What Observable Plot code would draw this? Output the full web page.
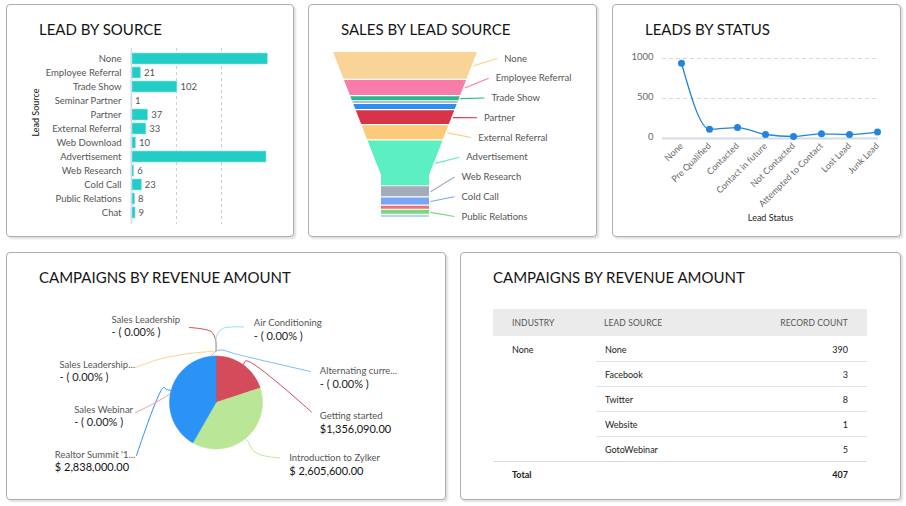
<!DOCTYPE html>
<html>
<head>
<meta charset="utf-8">
<script src="https://cdn.jsdelivr.net/npm/d3@7"></script>
<script src="https://cdn.jsdelivr.net/npm/@observablehq/plot@0.6"></script>
<style>
  body { margin: 0; background: #fff; font-family: Lato, "Open Sans", sans-serif; }
  #dash { position: relative; width: 906px; height: 506px; overflow: hidden; background: #fff; }
  .panel { position: absolute; box-sizing: border-box; border: 1px solid #a8afb9; border-radius: 4px;
           background: #fff; box-shadow: 2px 2px 2px rgba(0,0,0,0.12); }
  .title { position: absolute; font-size: 15px; line-height: 16px; color: #141414; white-space: nowrap; }
  .chart { position: absolute; }
  .cell { position: absolute; white-space: nowrap; font-size: 9px; color: #222; height: 14px; line-height: 14px; }
  .hdr { font-size: 8.5px; color: #555; letter-spacing: 0.1px; }
  .rule { position: absolute; height: 1px; background: #e2e2e2; }
</style>
</head>
<body>
<div id="dash"></div>
<script>
// ---------------- DATA ----------------
// Lead by source (bar)
const leadSources = ["None","Employee Referral","Trade Show","Seminar Partner","Partner","External Referral","Web Download","Advertisement","Web Research","Cold Call","Public Relations","Chat"];
const leadCounts  = [303, 21, 102, 1, 37, 33, 10, 300, 6, 23, 8, 9];

// Sales by lead source (funnel)
const funnelSources = ["None","Employee Referral","Trade Show","Seminar Partner","Web Download","Partner","External Referral","Advertisement","Web Research","Cold Call","Chat","Public Relations","Internal Seminar"];
const funnelSales   = [27, 15, 4, 1.5, 5, 14, 14, 45, 10, 7, 3, 4, 2];
const funnelColors  = ["#f9d497","#f87ca9","#27b98d","#9ea8b4","#2d8ff0","#d9334a","#fdca79","#5cefc2","#a3adba","#77a6f7","#f4706f","#79d982","#b4dbe0"];
const funnelLabelled = ["None","Employee Referral","Trade Show","Partner","External Referral","Advertisement","Web Research","Cold Call","Public Relations"];

// Leads by status (line)
const statuses     = ["None","Pre Qualified","Contacted","Contact in future","Not Contacted","Attempted to Contact","Lost Lead","Junk Lead"];
const statusCounts = [940, 116, 137, 50, 25, 58, 50, 80];
const statusTicks  = [0, 500, 1000];

// Campaigns by revenue amount (pie)
const campaigns      = ["Getting started","Introduction to Zylker","Realtor Summit '1...","Sales Leadership","Air Conditioning","Alternating curre...","Sales Leadership...","Sales Webinar"];
const revenue        = [1356090, 2605600, 2838000, 0, 0, 0, 0, 0];
const revenueLabels  = ["$1,356,090.00","$ 2,605,600.00","$ 2,838,000.00","- ( 0.00% )","- ( 0.00% )","- ( 0.00% )","- ( 0.00% )","- ( 0.00% )"];
const campaignColors = ["#d44b5b","#b9e797","#2c93f6","#d9485a","#8ce3ea","#82bdf5","#fdd28e","#eba0a6"];

// Table
const tableIndustry = "None";
const tableSources  = ["None","Facebook","Twitter","Website","GotoWebinar"];
const tableCounts   = [390, 3, 8, 1, 5];
const tableHeaders  = ["INDUSTRY","LEAD SOURCE","RECORD COUNT"];

// ---------------- LAYOUT ----------------
const FONT = "Lato, 'Open Sans', sans-serif";
const dash = document.getElementById("dash");
const panels = [
  {l:6,   t:4,   w:288, h:233, title:"LEAD BY SOURCE"},
  {l:308, t:4,   w:289, h:233, title:"SALES BY LEAD SOURCE"},
  {l:612, t:4,   w:289, h:233, title:"LEADS BY STATUS"},
  {l:6,   t:252, w:440, h:248, title:"CAMPAIGNS BY REVENUE AMOUNT"},
  {l:460, t:252, w:441, h:248, title:"CAMPAIGNS BY REVENUE AMOUNT"}
];
panels.forEach(p => {
  const d = document.createElement("div");
  d.className = "panel";
  Object.assign(d.style, {left:p.l+"px", top:p.t+"px", width:p.w+"px", height:p.h+"px"});
  dash.appendChild(d);
  const t = document.createElement("div");
  t.className = "title";
  t.textContent = p.title;
  Object.assign(t.style, {left:(p.l+33)+"px", top:(p.t+17)+"px"});
  dash.appendChild(t);
});
function place(svg, p) {
  svg.classList.add("chart");
  svg.style.left = p.l + "px";
  svg.style.top = p.t + "px";
  dash.appendChild(svg);
}
const baseStyle = {fontFamily: FONT, background: "transparent", overflow: "visible", fontSize: "9.5px"};

// ---------- 1. Lead by source ----------
{
  const data = leadSources.map((s, i) => ({source: s, value: leadCounts[i]}));
  const svg = Plot.plot({
    width: 288, height: 233,
    marginLeft: 125, marginRight: 28, marginTop: 44, marginBottom: 13,
    style: baseStyle,
    x: {domain: [0, 300], axis: null},
    y: {domain: leadSources, padding: 0.2},
    marks: [
      Plot.gridX([100, 200], {stroke: "#cfcfcf", strokeOpacity: 1, strokeDasharray: "3,3"}),
      Plot.barX(data, {x: "value", y: "source", fill: "#22cdc6", stroke: "#8fe6e2", strokeWidth: 0.6}),
      Plot.ruleX([0], {stroke: "#d5dbe6", strokeWidth: 1.5}),
      Plot.axisY({tickSize: 0, tickPadding: 10, fontSize: 9.5, color: "#555", label: null}),
      Plot.text(data.filter(d => d.value < 250), {x: "value", y: "source", text: d => String(d.value), dx: 3, textAnchor: "start", fill: "#555", fontSize: 9.5}),
      Plot.text(["Lead Source"], {frameAnchor: "left", dx: -95, rotate: -90, fontSize: 9, fill: "#111"})
    ]
  });
  place(svg, panels[0]);
}

// ---------- 2. Sales by lead source (funnel) ----------
{
  const L = {width: 289, height: 233, left: 25, right: 120, top: 48, bottom: 20, gap: 1.2, neckWidth: 1/3, neckHeight: 0.255};
  let acc = 0;
  const segs = funnelSources.map((s, i) => {
    const y1 = acc, y2 = acc + funnelSales[i];
    acc = y2 + L.gap;
    return {s, y1, y2, color: funnelColors[i]};
  });
  const T = acc - L.gap;
  const neckY = T * (1 - L.neckHeight);
  const hw = y => y < neckY ? 1 - (1 - L.neckWidth) * y / neckY : L.neckWidth;
  const pts = segs.flatMap(g => {
    const ys = [g.y1];
    if (neckY > g.y1 && neckY < g.y2) ys.push(neckY);
    ys.push(g.y2);
    return ys.map(y => ({s: g.s, y, x1: -hw(y), x2: hw(y), color: g.color}));
  });
  const pxX = (L.width - L.left - L.right) / 2;
  const pxY = (L.height - L.top - L.bottom) / T;
  const shown = segs.filter(g => funnelLabelled.includes(g.s));
  const a = 6 / pxY, b = T - 1 / pxY;
  shown.forEach((g, j) => {
    g.mid = (g.y1 + g.y2) / 2;
    g.ex = hw(g.mid) + 1 / pxX;
    g.ly = a + j * (b - a) / (shown.length - 1);
    g.lx = g.ex + 24 / pxX;
    g.tx = g.ex + 31 / pxX;
  });
  const svg = Plot.plot({
    width: L.width, height: L.height,
    marginLeft: L.left, marginRight: L.right, marginTop: L.top, marginBottom: L.bottom,
    style: baseStyle,
    x: {domain: [-1, 1], axis: null},
    y: {domain: [0, T], reverse: true, axis: null},
    color: {type: "identity"},
    marks: [
      Plot.areaX(pts, {y: "y", x1: "x1", x2: "x2", z: "s", fill: "color", curve: "linear"}),
      Plot.link(shown, {x1: "ex", y1: "mid", x2: "lx", y2: "ly", stroke: "color", strokeWidth: 1.2}),
      Plot.text(shown, {x: "tx", y: "ly", text: "s", textAnchor: "start", fill: "#555", fontSize: 9.5})
    ]
  });
  place(svg, panels[1]);
}

// ---------- 3. Leads by status ----------
{
  const data = statuses.map((s, i) => ({s, v: statusCounts[i]}));
  const svg = Plot.plot({
    width: 289, height: 233,
    marginLeft: 50, marginRight: 23, marginTop: 54, marginBottom: 99,
    style: baseStyle,
    x: {type: "point", domain: statuses, padding: 0.28, align: 0.94},
    y: {domain: [0, 1000]},
    marks: [
      Plot.gridY([500, 1000], {stroke: "#d9d9d9", strokeOpacity: 1, strokeDasharray: "4,3"}),
      Plot.ruleY([0], {stroke: "#d3dbe8", strokeWidth: 2}),
      Plot.axisY({ticks: statusTicks, tickFormat: d => String(d), tickSize: 0, tickPadding: 9, dy: -2, fontSize: 9.5, color: "#666", label: null}),
      Plot.axisX({tickRotate: -45, tickSize: 0, tickPadding: 6, fontSize: 9, color: "#666", label: null}),
      Plot.line(data, {x: "s", y: "v", stroke: "#2185e0", strokeWidth: 1.3, curve: "monotone-x"}),
      Plot.dot(data, {x: "s", y: "v", r: 3.5, fill: "#2185e0"}),
      Plot.text(["Lead Status"], {frameAnchor: "bottom", dy: 82, fontSize: 9, fill: "#222"})
    ]
  });
  place(svg, panels[2]);
}

// ---------- 4. Campaigns by revenue (pie) ----------
{
  const P = {width: 440, height: 248, cx: 209.5, cy: 150, r: 46.5};
  const pieData = campaigns.map((c, i) => ({c, v: revenue[i], color: campaignColors[i], label: revenueLabels[i]}));
  const arcs = d3.pie().sort(null).value(d => d.v)(pieData);
  const pol = (a, r) => [r * Math.sin(a), -r * Math.cos(a)];
  const slices = arcs.filter(a => a.data.v > 0).map(a => {
    const n = Math.max(2, Math.ceil((a.endAngle - a.startAngle) / 0.02));
    const p = [[0, 0]];
    for (let k = 0; k <= n; k++) p.push(pol(a.startAngle + (a.endAngle - a.startAngle) * k / n, P.r));
    p.push([0, 0]);
    return {color: a.data.color, pts: p.map(([x, y]) => ({x, y}))};
  });
  // label layout (px relative to pie centre, y downwards)
  const labelLayout = {
    "Getting started":        {tx: 103.8, ty: 13.7,  via: [], end: [95.5, 9.5]},
    "Introduction to Zylker": {tx: 73.2,  ty: 55.7,  via: [[37, 48], [47, 53]], end: [63.5, 55.5]},
    "Realtor Summit '1...":   {tx: -161.2,ty: 52,    via: [[-52.5, -15]], end: [-79.5, 53]},
    "Sales Leadership":       {tx: -104.5,ty: -83,   via: [[-0.5, -63], [-5, -71]], end: [-26.5, -75]},
    "Air Conditioning":       {tx: 37.8,  ty: -79.3, via: [[0.5, -66], [6.5, -74]], end: [27.5, -75.5]},
    "Alternating curre...":   {tx: 103.8, ty: -31.3, via: [[6, -52.5], [18, -49]], end: [94.5, -31]},
    "Sales Leadership...":    {tx: -156.5,ty: -37.7, via: [[-28.8, -48.7], [-55.5, -43.7]], end: [-81.2, -34.7]},
    "Sales Webinar":          {tx: -141.8,ty: 7.3,   via: [[-45.5, -9]], end: [-80.5, 10]}
  };
  const leaders = arcs.flatMap(a => {
    const lay = labelLayout[a.data.c];
    const start = a.data.v > 0 ? pol((a.startAngle + a.endAngle) / 2, P.r) : [0, -(P.r + 5)];
    const mid = a.data.v > 0 ? [pol((a.startAngle + a.endAngle) / 2, P.r + 5)] : [];
    return [start, ...mid, ...lay.via, lay.end].map(([x, y]) => ({c: a.data.c, x, y, color: a.data.color}));
  });
  const labels = arcs.map(a => ({c: a.data.c, x: labelLayout[a.data.c].tx, y: labelLayout[a.data.c].ty, label: a.data.label, zero: a.data.v === 0}));
  const svg = Plot.plot({
    width: P.width, height: P.height, margin: 0,
    style: baseStyle,
    x: {domain: [-P.cx, P.width - P.cx], axis: null},
    y: {domain: [P.height - P.cy, -P.cy], axis: null},
    color: {type: "identity"},
    marks: [
      Plot.line(leaders, {x: "x", y: "y", z: "c", stroke: "color", strokeWidth: 1, curve: "catmull-rom"}),
      ...slices.map(s => Plot.line(s.pts, {x: "x", y: "y", fill: s.color, stroke: s.color, strokeWidth: 0.5})),
      Plot.text(labels, {x: "x", y: "y", text: "c", textAnchor: "start", fill: "#555", fontSize: 9.5}),
      Plot.text(labels, {x: "x", y: d => d.y + 13, text: "label", textAnchor: "start", fill: d => d.zero ? "#222" : "#111", fontSize: 11})
    ]
  });
  place(svg, panels[3]);
}

// ---------- 5. Table ----------
{
  const T = {left: 493, right: 867, hdrTop: 309, hdrH: 27, col1: 512, col2: 605, colR: 848, row0: 350, step: 25};
  const add = (cls, text, css) => {
    const d = document.createElement("div");
    d.className = cls; d.textContent = text;
    Object.assign(d.style, css);
    dash.appendChild(d); return d;
  };
  add("rule", "", {left: T.left + "px", top: T.hdrTop + "px", width: (T.right - T.left) + "px", height: T.hdrH + "px", background: "#ebebeb"});
  const hy = T.hdrTop + T.hdrH / 2 - 7;
  add("cell hdr", tableHeaders[0], {left: T.col1 + "px", top: hy + "px"});
  add("cell hdr", tableHeaders[1], {left: T.col2 - 1 + "px", top: hy + "px"});
  add("cell hdr", tableHeaders[2], {left: (T.colR - 200) + "px", width: "200px", textAlign: "right", top: hy + "px"});
  add("cell", tableIndustry, {left: T.col1 + "px", top: (T.row0 - 7) + "px"});
  tableSources.forEach((s, i) => {
    const y = T.row0 + i * T.step;
    add("cell", s, {left: T.col2 + "px", top: (y - 7) + "px"});
    add("cell", String(tableCounts[i]), {left: (T.colR - 100) + "px", width: "100px", textAlign: "right", top: (y - 7) + "px"});
    if (i < tableSources.length - 1) add("rule", "", {left: (T.col2 - 9) + "px", top: (y + 11) + "px", width: (T.right - T.col2 + 9) + "px"});
  });
  const ly = T.row0 + (tableSources.length - 1) * T.step + 11;
  add("rule", "", {left: T.left + "px", top: ly + "px", width: (T.right - T.left) + "px", background: "#dcdcdc"});
  const ty = T.row0 + tableSources.length * T.step - 7;
  add("cell", "Total", {left: T.col1 + "px", top: ty + "px", fontWeight: "bold"});
  add("cell", String(d3.sum(tableCounts)), {left: (T.colR - 100) + "px", width: "100px", textAlign: "right", top: ty + "px", fontWeight: "bold"});
}
</script>
</body>
</html>
